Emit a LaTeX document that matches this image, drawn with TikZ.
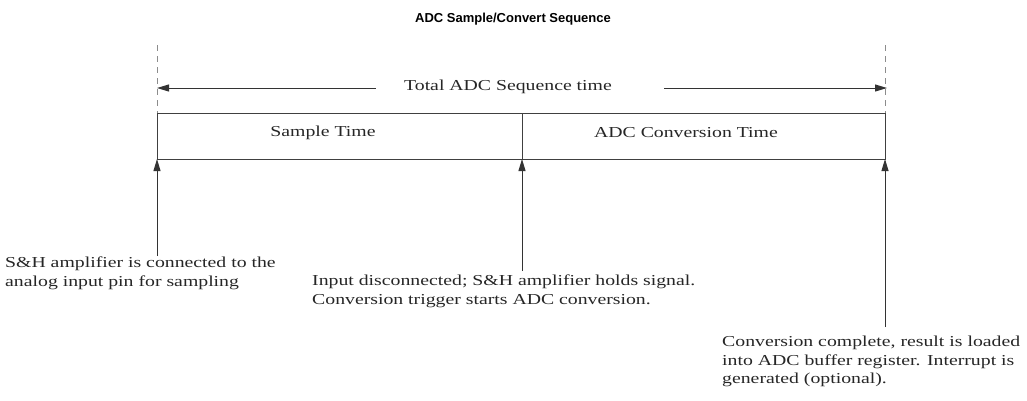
\documentclass[tikz,border=0pt]{standalone}
\usepackage{fontspec}
\setmainfont{Liberation Serif}[FakeStretch=1.3]
\newfontfamily\titlefont{Liberation Sans}
\usetikzlibrary{arrows.meta}
\begin{document}
\begin{tikzpicture}[x=1pt,y=-1pt,
  lbl/.style={inner sep=0pt, font=\fontsize{15.2}{18.5}\selectfont, text=black!85},
  note/.style={lbl, anchor=north west, align=left},
  frame/.style={draw=black!75, line width=1pt},
  guide/.style={draw=black!45, line width=1pt, dash pattern=on 6pt off 5pt},
  tip/.style={-{Triangle[length=12pt,width=7pt]}, draw=black!80, line width=1pt}]
\useasboundingbox (0,0) rectangle (1027,400);

% title
\node[font=\titlefont\bfseries\fontsize{13}{15}\selectfont] (title) at (513,19) {ADC Sample/Convert Sequence};

% timing frame
\coordinate (tl) at (157,113);
\coordinate (tr) at (885,113);
\coordinate (bl) at (157,159);
\coordinate (br) at (885,159);
\coordinate (mt) at (522,113);
\coordinate (mb) at (522,159);
\draw[frame] (tl) -- (tr) -- (br) -- (bl) -- cycle;
\draw[frame] (mt) -- (mb);
\node[lbl] (sample) at (323,133) {Sample Time};
\node[lbl] (conv) at (686,133) {ADC Conversion Time};

% total span
\coordinate (gl) at (157,45);
\coordinate (gr) at (885,45);
\draw[guide] (gl) -- (tl);
\draw[guide] (gr) -- (tr);
\node[lbl] (total) at (508,87) {Total ADC Sequence time};
\coordinate (al) at (157,88);
\coordinate (ar) at (887,88);
\draw[tip] (total.west) ++(-28,1) coordinate (tw) -- (al);
\draw[tip] (total.east) ++(52,1) coordinate (te) -- (ar);

% event markers
\coordinate (e1) at (157,256);
\coordinate (e2) at (522,271);
\coordinate (e3) at (885,327);
\draw[tip] (e1) -- (bl);
\draw[tip] (e2) -- (mb);
\draw[tip] (e3) -- (br);

\node[note] (n1) at (5,257) {S\&H amplifier is connected to the\\analog input pin for sampling};
\node[note] (n2) at (312,275) {Input disconnected; S\&H amplifier holds signal.\\Conversion trigger starts ADC conversion.};
\node[note] (n3) at (722,336) {Conversion complete, result is loaded\\into ADC buffer register. Interrupt is\\generated (optional).};
\end{tikzpicture}
\end{document}
